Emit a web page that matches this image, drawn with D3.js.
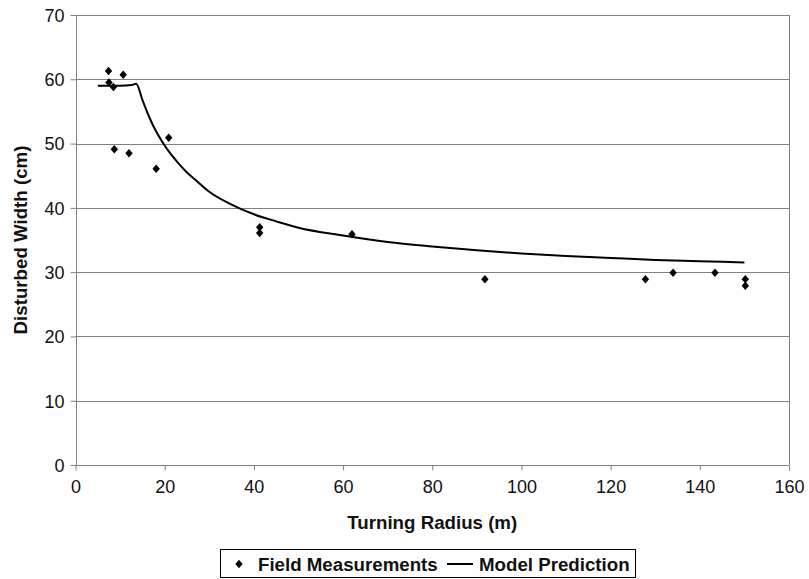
<!DOCTYPE html>
<html>
<head>
<meta charset="utf-8">
<script src="https://cdn.jsdelivr.net/npm/d3@7"></script>
<style>
  html, body { margin: 0; padding: 0; background: #fff; }
  svg { display: block; font-family: "Liberation Sans", Arial, sans-serif; }
</style>
</head>
<body>
<svg id="chart" width="809" height="579"></svg>
<script>
// Field measurements (turning radius m, disturbed width cm)
const fieldRadius = [7.4, 10.7, 7.5, 8.5, 8.7, 12.0, 18.1, 20.9, 41.3, 41.3, 62.0, 91.8, 127.8, 134.0, 143.4, 150.2, 150.2];
const fieldWidth  = [61.3, 60.7, 59.5, 58.8, 49.1, 48.5, 46.1, 50.9, 37.0, 36.1, 35.9, 28.9, 28.9, 29.9, 29.9, 28.9, 27.9];

// Model prediction curve
const modelRadius = [5, 10, 12.6, 13.6, 15, 16, 17, 18, 19, 20, 21, 23, 25, 27, 30, 35, 40, 45, 50, 60, 70, 80, 90, 100, 110, 120, 130, 140, 150];
const modelWidth  = [59.0, 59.0, 59.1, 59.3, 56.8, 55.0, 53.4, 52.0, 50.8, 49.7, 48.7, 47.0, 45.5, 44.3, 42.5, 40.5, 39.0, 37.9, 36.9, 35.7, 34.7, 34.0, 33.4, 32.9, 32.5, 32.2, 31.9, 31.7, 31.5];

const xTicks = [0, 20, 40, 60, 80, 100, 120, 140, 160];
const yTicks = [0, 10, 20, 30, 40, 50, 60, 70];

const seriesNames = ["Field Measurements", "Model Prediction"];
const xTitle = "Turning Radius (m)";
const yTitle = "Disturbed Width (cm)";

(function () {
const svg = d3.select("#chart");
const pL = 75.5, pR = 789, pT = 15, pB = 465;

const x = d3.scaleLinear().domain([0, 160]).range([pL, pR]);
const y = d3.scaleLinear().domain([0, 70]).range([pB, pT]);

const gridColor = "#808080";
const titleSize = "18.7px";

// horizontal gridlines
svg.append("g").selectAll("line").data(yTicks.filter(d => d > 0)).join("line")
  .attr("x1", pL).attr("x2", pR)
  .attr("y1", d => Math.round(y(d)) + 0.5).attr("y2", d => Math.round(y(d)) + 0.5)
  .attr("stroke", gridColor).attr("stroke-width", 1);

// right border
svg.append("line")
  .attr("x1", Math.round(pR) + 0.5).attr("x2", Math.round(pR) + 0.5)
  .attr("y1", pT).attr("y2", pB)
  .attr("stroke", gridColor);

// axes
const xAxis = d3.axisBottom(x).tickValues(xTicks).tickSize(5).tickPadding(10).tickFormat(d3.format("d"));
const yAxis = d3.axisLeft(y).tickValues(yTicks).tickSize(6).tickPadding(6).tickFormat(d3.format("d"));

const gx = svg.append("g").attr("transform", `translate(0,${Math.round(pB) + 0.5})`).call(xAxis);
const gy = svg.append("g").attr("transform", `translate(${Math.round(pL) + 0.5},0)`).call(yAxis);

[gx, gy].forEach(g => {
  g.select(".domain").attr("stroke", gridColor);
  g.selectAll(".tick line").attr("stroke", gridColor);
  g.selectAll(".tick text").attr("fill", "#111").style("font-size", "18px")
    .style("font-family", "'Liberation Sans', Arial, sans-serif");
});
gx.select(".domain").attr("d", `M${pL},0H${pR}`);
gy.select(".domain").attr("d", `M0,${pT}V${pB}`);
gy.selectAll(".tick text").attr("dy", "0.35em");
gx.selectAll(".tick text").attr("dy", "0.71em");

// model line
const line = d3.line().x((d, i) => x(modelRadius[i])).y((d, i) => y(modelWidth[i])).curve(d3.curveMonotoneX);
svg.append("path").datum(modelWidth).attr("d", line)
  .attr("fill", "none").attr("stroke", "#000").attr("stroke-width", 2);

// diamond symbol
const diamond = {
  draw(ctx, size) {
    const h = Math.sqrt(size) / 2 * 1.15, w = Math.sqrt(size) / 2;
    ctx.moveTo(0, -h); ctx.lineTo(w, 0); ctx.lineTo(0, h); ctx.lineTo(-w, 0); ctx.closePath();
  }
};
const sym = d3.symbol().type(diamond).size(55);

svg.append("g").selectAll("path").data(fieldWidth).join("path")
  .attr("transform", (d, i) => `translate(${x(fieldRadius[i])},${y(d)})`)
  .attr("d", sym).attr("fill", "#000");

// axis titles
svg.append("text").attr("x", (pL + pR) / 2).attr("y", 529)
  .attr("text-anchor", "middle").style("font-size", titleSize).style("font-weight", "bold")
  .attr("fill", "#111").text(xTitle);
svg.append("text").attr("transform", `translate(27,${(pT + pB) / 2}) rotate(-90)`)
  .attr("text-anchor", "middle").style("font-size", titleSize).style("font-weight", "bold")
  .attr("fill", "#111").text(yTitle);

// legend
const lg = svg.append("g");
lg.append("rect").attr("x", 220.5).attr("y", 549.5).attr("width", 415).attr("height", 28)
  .attr("fill", "#fff").attr("stroke", "#000").attr("stroke-width", 1);
lg.append("path").attr("transform", "translate(239,564)").attr("d", sym).attr("fill", "#000");
lg.append("text").attr("x", 258).attr("y", 571).style("font-size", titleSize).style("font-weight", "bold")
  .attr("fill", "#111").text(seriesNames[0]);
lg.append("line").attr("x1", 447).attr("x2", 473).attr("y1", 564).attr("y2", 564)
  .attr("stroke", "#000").attr("stroke-width", 2);
lg.append("text").attr("x", 479).attr("y", 571).style("font-size", titleSize).style("font-weight", "bold")
  .attr("fill", "#111").text(seriesNames[1]);
})();
</script>
</body>
</html>
